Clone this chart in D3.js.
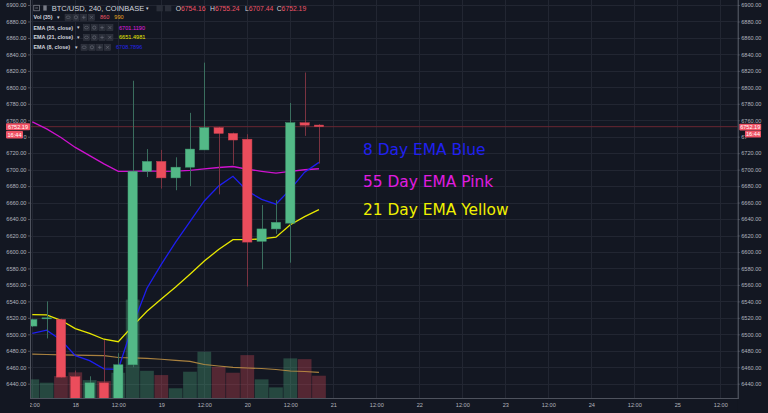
<!DOCTYPE html>
<html><head><meta charset="utf-8">
<script src="https://cdn.jsdelivr.net/npm/d3@7"></script>
<style>html,body{margin:0;padding:0;background:#131722;overflow:hidden}</style>
</head><body>
<svg id="c" width="768" height="413"></svg>
<script>
// ---------- data ----------
const candleTimes = ["2018-10-17T12:00","2018-10-17T16:00","2018-10-17T20:00",
  "2018-10-18T00:00","2018-10-18T04:00","2018-10-18T08:00","2018-10-18T12:00","2018-10-18T16:00","2018-10-18T20:00",
  "2018-10-19T00:00","2018-10-19T04:00","2018-10-19T08:00","2018-10-19T12:00","2018-10-19T16:00","2018-10-19T20:00",
  "2018-10-20T00:00","2018-10-20T04:00","2018-10-20T08:00","2018-10-20T12:00","2018-10-20T16:00","2018-10-20T20:00"];
const opens  = [6510, 6519, 6518, 6448.5, 6420, 6441, 6420, 6463, 6698, 6710, 6690, 6703, 6724, 6751, 6744, 6737, 6613, 6628, 6635, 6757, 6754.16];
const highs  = [6519, 6540, 6519, 6456, 6449, 6493, 6477, 6808, 6725, 6724, 6715, 6769, 6830, 6752, 6745, 6743, 6657, 6663, 6781, 6818, 6755.24];
const lows   = [6509, 6495, 6447, 6405, 6405, 6405, 6405, 6460, 6691, 6677, 6675, 6680, 6724, 6670, 6706, 6558, 6579, 6622, 6587, 6741, 6707.44];
const closes = [6518, 6520, 6448, 6418, 6441, 6418, 6463, 6698, 6710, 6690, 6703, 6725, 6751, 6744, 6736, 6612, 6628, 6636, 6757, 6754, 6752.19];
const volumes = [720, 590, 850, 990, 690, 655, 975, 3800, 1050, 885, 375, 1015, 1785, 1205, 975, 1655, 720, 410, 1530, 1500, 860];
const volumeMA = [1690, 1680, 1668, 1656, 1645, 1633, 1563, 1552, 1533, 1495, 1456, 1417, 1293, 1235, 1185, 1158, 1139, 1100, 1042, 1023, 990];
const ema55 = [6758, 6749.5, 6739, 6727, 6717, 6707, 6698, 6698, 6698.4, 6698, 6698.3, 6699.2, 6701, 6702.6, 6703.8, 6700.5, 6698, 6695.7, 6697.9, 6699.9, 6701.1];
const ema21 = [6524, 6523.5, 6517, 6507, 6501, 6494, 6491, 6510, 6528, 6543, 6557.5, 6573, 6589, 6603, 6615, 6615, 6616, 6618, 6633, 6643, 6651.5];
const ema8  = [6501, 6505, 6493, 6474, 6468, 6458, 6457.5, 6511, 6556, 6585, 6612, 6637, 6662, 6680, 6692, 6674, 6664, 6658, 6676, 6697, 6708.8];
const priceTicks = d3.range(6440, 6901, 20);
const lastPrice = 6752.19;
const lastTimeLabel = "16:44";
const annotations = ["8 Day EMA Blue", "55 Day EMA Pink", "21 Day EMA Yellow"];
const legendRows = ["Vol (35)", "EMA (55, close)", "EMA (21, close)", "EMA (8, close)"];
const legendValues = [["860", "990"], ["6701.1190"], ["6651.4981"], ["6708.7896"]];

// ---------- setup ----------
const W = 768, H = 413;
const PL = 30, PR = 737.7, PB = 398;
const parse = d3.utcParse("%Y-%m-%dT%H:%M");
const times = candleTimes.map(parse);
const svg = d3.select("#c");
const x = d3.scaleUtc().domain([parse("2018-10-18T00:00"), parse("2018-10-25T00:00")]).range([75.3, 677.3]);
const y = d3.scaleLinear().domain([6440, 6900]).range([383.7, 5]);
const yv = d3.scaleLinear().domain([0, 3860]).range([PB, 298]);
const xTicks = d3.utcHour.every(12).range(parse("2018-10-17T12:00"), parse("2018-10-25T13:00"));

const BG = "#131722", GRID = "#222632", AXIS = "#4e525d", TXT = "#b2b5be";
const GREEN = "#53b987", RED = "#eb4d5c";
const FONT = "Liberation Sans, Arial, sans-serif";

svg.append("rect").attr("width", W).attr("height", H).attr("fill", BG);
const defs = svg.append("defs");
defs.append("clipPath").attr("id", "plot").append("rect").attr("x", PL).attr("y", 0).attr("width", PR - PL).attr("height", PB);
defs.append("clipPath").attr("id", "xlab").append("rect").attr("x", PL).attr("y", PB).attr("width", PR - PL).attr("height", H - PB);

const plot = svg.append("g").attr("clip-path", "url(#plot)");
// grid
plot.selectAll("line.hg").data(priceTicks).join("line").attr("class", "hg")
  .attr("x1", PL).attr("x2", PR).attr("y1", d => Math.round(y(d)) + 0.5).attr("y2", d => Math.round(y(d)) + 0.5)
  .attr("stroke", GRID).attr("stroke-width", 1);
plot.selectAll("line.vg").data(xTicks).join("line").attr("class", "vg")
  .attr("y1", 0).attr("y2", PB).attr("x1", d => Math.round(x(d)) + 0.5).attr("x2", d => Math.round(x(d)) + 0.5)
  .attr("stroke", GRID).attr("stroke-width", 1);

// volume bars
const step = x(parse("2018-10-18T04:00")) - x(parse("2018-10-18T00:00"));
plot.selectAll("rect.vol").data(volumes).join("rect").attr("class", "vol")
  .attr("x", (d, i) => x(times[i]) - step / 2 + 0.3).attr("width", step - 0.6)
  .attr("y", d => yv(d)).attr("height", d => PB - yv(d))
  .attr("fill", (d, i) => closes[i] >= opens[i] ? GREEN : RED).attr("fill-opacity", 0.3);

// volume MA
const line = (arr, sc) => d3.line().x((d, i) => x(times[i])).y(d => sc(d))(arr);
plot.append("path").attr("d", line(volumeMA, yv)).attr("fill", "none").attr("stroke", "#c49444").attr("stroke-width", 1.2).attr("stroke-opacity", 0.85);

// last price line
plot.append("line").attr("x1", PL).attr("x2", PR).attr("y1", y(lastPrice)).attr("y2", y(lastPrice))
  .attr("stroke", "#6a2632").attr("stroke-width", 1);

// EMA lines
plot.append("path").attr("d", line(ema21, y)).attr("fill", "none").attr("stroke", "#e8e800").attr("stroke-width", 1.3);
plot.append("path").attr("d", line(ema55, y)).attr("fill", "none").attr("stroke", "#cf12cf").attr("stroke-width", 1.3);
plot.append("path").attr("d", line(ema8, y)).attr("fill", "none").attr("stroke", "#1e1ef0").attr("stroke-width", 1.3);

// candles
const bw = 9.3;
const cg = plot.selectAll("g.c").data(opens).join("g").attr("class", "c");
cg.append("line")
  .attr("x1", (d, i) => Math.round(x(times[i])) + 0.5).attr("x2", (d, i) => Math.round(x(times[i])) + 0.5)
  .attr("y1", (d, i) => y(highs[i])).attr("y2", (d, i) => y(lows[i]))
  .attr("stroke", (d, i) => closes[i] >= opens[i] ? "#3a6e5e" : "#7a3341").attr("stroke-width", 1);
cg.append("rect")
  .attr("x", (d, i) => x(times[i]) - bw / 2).attr("width", bw)
  .attr("y", (d, i) => y(Math.max(opens[i], closes[i])))
  .attr("height", (d, i) => Math.max(1, Math.abs(y(opens[i]) - y(closes[i]))))
  .attr("fill", (d, i) => closes[i] >= opens[i] ? GREEN : RED)
  .attr("stroke", (d, i) => closes[i] >= opens[i] ? "#3f9a70" : "#c8404f").attr("stroke-width", 0.5);

// axis panels
svg.append("rect").attr("x", 0).attr("y", 0).attr("width", PL).attr("height", H).attr("fill", BG);
svg.append("rect").attr("x", PR).attr("y", 0).attr("width", W - PR).attr("height", H).attr("fill", BG);
svg.append("rect").attr("x", PL).attr("y", PB).attr("width", PR - PL).attr("height", H - PB).attr("fill", BG);

const fmt = d3.format(".2f");
// tick labels that sit under the last-price / time tags are only partly visible
const hiddenTick = 6740;
const styleAxis = g => {
  g.select(".domain").remove();
  g.selectAll(".tick line").attr("stroke", AXIS);
  g.selectAll(".tick text").attr("fill", TXT).attr("font-family", FONT).attr("font-size", "5.6px");
};
const axR = svg.append("g").attr("transform", `translate(${PR},0)`)
  .call(d3.axisRight(y).tickValues(priceTicks).tickFormat(d => d === hiddenTick ? fmt(d).slice(0, 2) : fmt(d)).tickSize(2).tickPadding(1.5)).call(styleAxis);
const axL = svg.append("g").attr("transform", `translate(${PL},0)`)
  .call(d3.axisLeft(y).tickValues(priceTicks).tickFormat(d => d === hiddenTick ? fmt(d).slice(-1) : fmt(d)).tickSize(2).tickPadding(1.5)).call(styleAxis);
svg.append("g").attr("clip-path", "url(#xlab)").append("g").attr("transform", `translate(0,${PB})`)
  .call(d3.axisBottom(x).tickValues(xTicks).tickSize(0).tickPadding(5)
    .tickFormat(d => d.getUTCHours() === 0 ? d3.utcFormat("%-d")(d) : "12:00")).call(styleAxis);

// borders
svg.append("line").attr("x1", PL + 0.5).attr("x2", PL + 0.5).attr("y1", 0).attr("y2", PB + 1).attr("stroke", AXIS);
svg.append("line").attr("x1", PR + 0.5).attr("x2", PR + 0.5).attr("y1", 0).attr("y2", PB + 1).attr("stroke", "#5f636e");
svg.append("line").attr("x1", PL).attr("x2", PR + 1).attr("y1", PB + 0.5).attr("y2", PB + 0.5).attr("stroke", AXIS);

// price / time labels
function tag(x0, y0, w, h, t) {
  svg.append("rect").attr("x", x0).attr("y", y0).attr("width", w).attr("height", h).attr("fill", "#ef5366").attr("rx", 0.8);
  svg.append("text").attr("x", x0 + w / 2).attr("y", y0 + h / 2 + 2).attr("text-anchor", "middle")
    .attr("fill", "#fff").attr("font-family", FONT).attr("font-size", "5.6px").text(t);
}
tag(6, y(lastPrice) - 3.4, 24, 7, fmt(lastPrice));
tag(6, y(lastPrice) + 4.3, 17, 7.4, lastTimeLabel);
tag(739.3, y(lastPrice) - 2.9, 21.9, 6.6, fmt(lastPrice));
tag(745, y(lastPrice) + 4, 16, 6.8, lastTimeLabel);

// ---------- legend ----------
const LG = svg.append("g");
function iconBox(x0, y0, kind) {
  LG.append("rect").attr("x", x0).attr("y", y0).attr("width", 6.3).attr("height", 6.3).attr("fill", "#2a2e39").attr("stroke", "#3a3e49").attr("stroke-width", 0.4);
  const cx = x0 + 3.15, cy = y0 + 3.15;
  if (kind === 0) LG.append("ellipse").attr("cx", cx).attr("cy", cy).attr("rx", 2).attr("ry", 1.3).attr("fill", "none").attr("stroke", "#6d717c").attr("stroke-width", 0.5);
  if (kind === 1) LG.append("circle").attr("cx", cx).attr("cy", cy).attr("r", 1.6).attr("fill", "none").attr("stroke", "#6d717c").attr("stroke-width", 0.6);
  if (kind === 2) LG.append("path").attr("d", `M${cx - 1.8},${cy}H${cx + 1.8}M${cx},${cy - 1.8}V${cy + 1.8}`).attr("stroke", "#6d717c").attr("stroke-width", 0.6);
  if (kind === 3) LG.append("path").attr("d", `M${cx - 1.5},${cy - 1.5}L${cx + 1.5},${cy + 1.5}M${cx + 1.5},${cy - 1.5}L${cx - 1.5},${cy + 1.5}`).attr("stroke", "#6d717c").attr("stroke-width", 0.6);
}
// row 1
LG.append("rect").attr("x", 33.8).attr("y", 5.2).attr("width", 5.6).attr("height", 5.6).attr("fill", "none").attr("stroke", "#9598a1").attr("stroke-width", 0.6);
LG.append("line").attr("x1", 35.2).attr("x2", 38).attr("y1", 8).attr("y2", 8).attr("stroke", "#9598a1").attr("stroke-width", 0.6);
LG.append("rect").attr("x", 43.3).attr("y", 5.4).attr("width", 3.4).attr("height", 5.2).attr("fill", "#787b86");
LG.append("text").attr("x", 51.7).attr("y", 11).attr("fill", "#d1d4dc").attr("font-family", FONT).attr("font-size", "7.5px").text("BTC/USD, 240, COINBASE");
LG.append("text").attr("x", 146.3).attr("y", 10.2).attr("fill", "#d1d4dc").attr("font-family", FONT).attr("font-size", "5px").text("▾");
LG.append("rect").attr("x", 156.5).attr("y", 5).attr("width", 6.3).attr("height", 6.3).attr("fill", "#2a2e39");
LG.append("rect").attr("x", 165).attr("y", 5).attr("width", 6.3).attr("height", 6.3).attr("fill", "#2a2e39");
const ohlcLabels = ["O", "H", "L", "C"];
const ohlcVals = [opens[20], highs[20], lows[20], closes[20]];
const ohlcX = [175.7, 210, 245, 276.7];
ohlcLabels.forEach((l, i) => {
  const t = LG.append("text").attr("x", ohlcX[i]).attr("y", 11).attr("font-family", FONT).attr("font-size", "6.8px");
  t.append("tspan").attr("fill", "#d1d4dc").text(l);
  t.append("tspan").attr("fill", "#ef5366").text(fmt(ohlcVals[i]));
});
// rows 2-5
const rowY = [17.3, 27.6, 37.4, 47.3];
const arrowX = [57.3, 77, 77, 74.8];
const boxX = [65, 83.3, 83.3, 81];
const valX = [[100, 114.3], [119], [119], [116]];
const valCol = [["#ef5366", "#e6a521"], ["#e01ce0"], ["#e8e800"], ["#2323e6"]];
legendRows.forEach((r, k) => {
  LG.append("text").attr("x", 33.5).attr("y", rowY[k] + 2).attr("fill", "#d1d4dc").attr("font-family", FONT).attr("font-weight", "bold").attr("font-size", "5.4px").text(r);
  LG.append("text").attr("x", arrowX[k]).attr("y", rowY[k] + 1.8).attr("fill", "#d1d4dc").attr("font-family", FONT).attr("font-size", "4.5px").text("▾");
  for (let j = 0; j < 4; j++) iconBox(boxX[k] + j * 7.8, rowY[k] - 3.15, j);
  valX[k].forEach((vx, j) => {
    LG.append("text").attr("x", vx).attr("y", rowY[k] + 2).attr("fill", valCol[k][j]).attr("font-family", FONT).attr("font-size", "5.6px").text(legendValues[k][j]);
  });
});

// ---------- annotations ----------
const annCol = ["#2020f0", "#e01ce0", "#f0f000"];
const annY = [155.2, 186.6, 215.2];
annotations.forEach((a, i) => {
  svg.append("text").attr("x", 363).attr("y", annY[i]).attr("fill", annCol[i])
    .attr("font-family", "DejaVu Sans, Verdana, sans-serif").attr("font-size", "15.4px").text(a);
});
</script>
</body></html>
